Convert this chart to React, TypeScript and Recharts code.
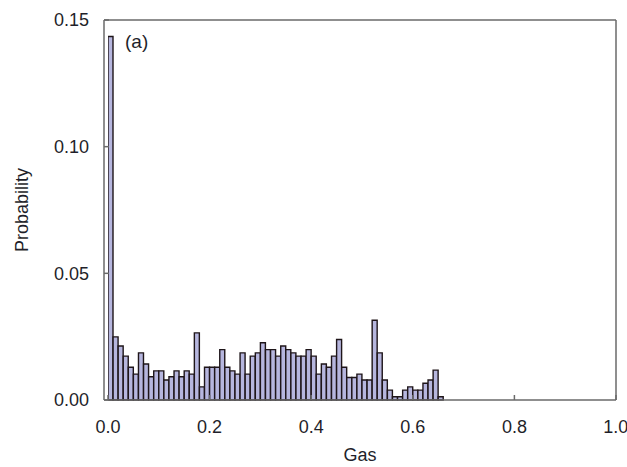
import React from 'react';
import { BarChart, Bar, XAxis, YAxis, Label } from 'recharts';

// probability per gas bin (bin width 0.01, starting at 0.00)
const probability = [
  0.1435, 0.0249, 0.0213, 0.0173, 0.0129, 0.0102, 0.0186, 0.0142, 0.0092, 0.0115,
  0.0115, 0.0079, 0.0092, 0.0115, 0.0092, 0.0115, 0.0102, 0.0265, 0.0052, 0.0129,
  0.0129, 0.0129, 0.0199, 0.0129, 0.0115, 0.0102, 0.0186, 0.0102, 0.0173, 0.0186,
  0.0226, 0.0199, 0.0199, 0.0173, 0.0213, 0.0199, 0.0186, 0.0173, 0.0173, 0.0199,
  0.0173, 0.0102, 0.0142, 0.0129, 0.0173, 0.0239, 0.0129, 0.0089, 0.0089, 0.0102,
  0.0079, 0.0079, 0.0315, 0.0186, 0.0079, 0.0039, 0.0013, 0.0013, 0.0039, 0.0052,
  0.0039, 0.0039, 0.0066, 0.0079, 0.0118, 0.0013,
];
const binWidth = 0.01;
const gasBins = probability.map((_, i) => +((i + 0.5) * binWidth).toFixed(3));

const xTicks = [0, 0.2, 0.4, 0.6, 0.8, 1.0];
const yTicks = [0, 0.05, 0.1, 0.15];

const data = gasBins.map((gas, i) => ({ gas, p: probability[i] }));

const textColor = '#1f1f2a';
const frameColor = '#6a6a6a';
const font = 'Liberation Sans, Arial, sans-serif';
const frameLine = { stroke: frameColor, strokeWidth: 1.5 };

export default function App() {
  return (
    <div style={{ position: 'absolute', left: 0, top: 0, background: '#fff' }}>
      <BarChart
        width={627}
        height={467}
        data={data}
        margin={{ top: 19, right: 10, bottom: 0, left: 0 }}
        barCategoryGap={0}
        style={{ fontFamily: font }}
      >
        <XAxis
          dataKey="gas"
          type="number"
          domain={[0, 1]}
          ticks={xTicks}
          padding={{ left: 4, right: 0 }}
          tickFormatter={(v: number) => v.toFixed(1)}
          tick={{ fontSize: 18, fill: textColor }}
          axisLine={frameLine}
          tickLine={frameLine}
          tickSize={-5}
          tickMargin={25}
          height={67}
          allowDataOverflow
        >
          <Label value="Gas" position="insideBottom" offset={6} style={{ fontSize: 18, fill: textColor }} />
        </XAxis>
        <XAxis
          xAxisId="top"
          orientation="top"
          dataKey="gas"
          type="number"
          domain={[0, 1]}
          ticks={xTicks}
          padding={{ left: 4, right: 0 }}
          tick={false}
          axisLine={frameLine}
          tickLine={frameLine}
          tickSize={-5}
          height={1}
        />
        <YAxis
          type="number"
          domain={[0, 0.15]}
          ticks={yTicks}
          tickFormatter={(v: number) => v.toFixed(2)}
          tick={{ fontSize: 18, fill: textColor }}
          axisLine={frameLine}
          tickLine={frameLine}
          tickSize={-5}
          tickMargin={20}
          width={104}
        >
          <Label
            value="Probability"
            angle={-90}
            position="insideLeft"
            offset={22}
            style={{ fontSize: 18, fill: textColor, textAnchor: 'middle' }}
          />
        </YAxis>
        <YAxis
          yAxisId="right"
          orientation="right"
          type="number"
          domain={[0, 0.15]}
          ticks={yTicks}
          tick={false}
          axisLine={frameLine}
          tickLine={frameLine}
          tickSize={-5}
          width={1}
        />
        <Bar
          dataKey="p"
          fill="#b6b6de"
          stroke="#1e1519"
          strokeWidth={1.4}
          isAnimationActive={false}
        />
        <text x={125} y={48} fontSize={19} fill={textColor} fontFamily={font}>
          (a)
        </text>
      </BarChart>
    </div>
  );
}
